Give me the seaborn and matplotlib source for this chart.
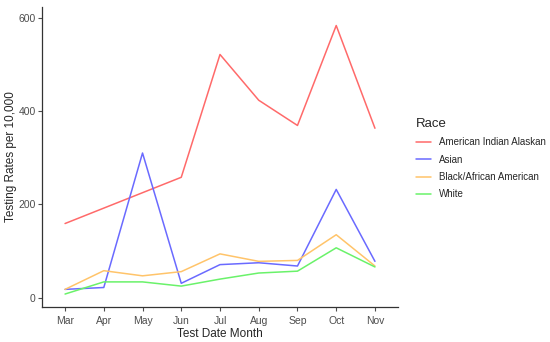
import matplotlib
matplotlib.use('Agg')
import matplotlib.pyplot as plt
import seaborn as sns
import pandas as pd

months = ['Mar', 'Apr', 'May', 'Jun', 'Jul', 'Aug', 'Sep', 'Oct', 'Nov']
races = ['American Indian Alaskan', 'Asian', 'Black/African American', 'White']
aian = [159, 192, 225, 258, 521, 423, 369, 583, 363]
asian = [18, 22, 310, 31, 71, 75, 68, 232, 78]
black = [18, 58, 47, 56, 94, 78, 80, 135, 68]
white = [8, 34, 34, 25, 40, 53, 57, 107, 66]
colors = ['#FF6A6A', '#6A6AFF', '#FFC46A', '#6AF26A']

rows = []
for race, vals in zip(races, [aian, asian, black, white]):
    for i, (m, v) in enumerate(zip(months, vals)):
        rows.append({'Month': m, 'idx': i, 'Rate': v, 'Race': race})
df = pd.DataFrame(rows)

sns.set_style('ticks')
plt.rcParams['font.family'] = ['Liberation Sans', 'DejaVu Sans']

fig = plt.figure(figsize=(5.5, 3.42), dpi=100)
ax = fig.add_axes([0.076, 0.102, 0.648, 0.878])
sns.lineplot(data=df, x='idx', y='Rate', hue='Race', palette=colors,
             linewidth=1.1, ax=ax, legend=False)

ax.set_xlim(-0.6, 8.6)
ax.set_ylim(-20, 623)
ax.set_xticks(range(len(months)))
ax.set_xticklabels(months)
ax.set_yticks([0, 200, 400, 600])
ax.tick_params(colors='#4D4D4D', labelsize=7.5, length=3, width=0.8)
ax.tick_params(axis='y', pad=1.5)
for lab in ax.get_xticklabels() + ax.get_yticklabels():
    lab.set_color('#4D4D4D')
for s in ['left', 'bottom']:
    ax.spines[s].set_color('#333333')
    ax.spines[s].set_linewidth(0.9)
sns.despine(ax=ax)
ax.set_xlabel('Test Date Month', fontsize=8.5, labelpad=1)
ax.set_ylabel('Testing Rates per 10,000', fontsize=8.5)
ax.yaxis.set_label_coords(-0.07, 0.5)

handles = [plt.Line2D([], [], color=c, lw=1.1) for c in colors]
leg = fig.legend(handles, races, title='Race', loc='upper left',
                 bbox_to_anchor=(0.74, 0.68), frameon=False, fontsize=7,
                 title_fontsize=9.5, handlelength=1.6, labelspacing=0.75,
                 alignment='left')

plt.savefig('out.png', dpi=100)
